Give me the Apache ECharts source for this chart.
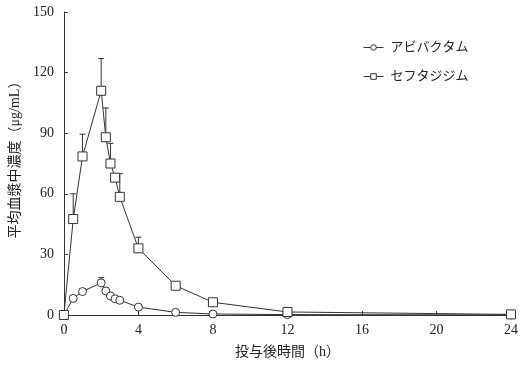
<!DOCTYPE html>
<html>
<head>
<meta charset="utf-8">
<script src="https://cdn.jsdelivr.net/npm/echarts@6/dist/echarts.min.js"></script>
<style>
    html, body { margin: 0; padding: 0; background: #fff; }
    #container { width: 530px; height: 369px; }
</style>
</head>
<body>
<div id="container"></div>
<script type="text/javascript">
    // 投与後時間 (h)
    var times = [0, 0.5, 1, 2, 2.25, 2.5, 2.75, 3, 4, 6, 8, 12, 24];
    // アビバクタム
    var aviMean = [0, 8.2, 11.6, 15.9, 11.9, 9.4, 8.0, 7.3, 3.9, 1.3, 0.5, 0.2, 0.05];
    var aviUpper = [0, 9.5, 13, 18.5, 13.5, 10.5, 9.0, 8.2, 4.5, 1.6, 0.7, 0.3, 0.1];
    // セフタジジム
    var cefMean = [0, 47.5, 78.5, 111, 88, 75, 68, 58.5, 33, 14.5, 6.3, 1.5, 0.3];
    var cefUpper = [0, 60, 89.5, 127, 102.5, 85, 70, 70, 38.5, 16, 7, 2, 0.4];

    var seriesNames = ['アビバクタム', 'セフタジジム'];
    var fontFam = 'Liberation Serif, "Noto Sans CJK JP", serif';

    function pairs(xs, ys) {
        return xs.map(function (x, i) { return [x, ys[i]]; });
    }
    function errData(xs, mean, upper) {
        return xs.map(function (x, i) { return [x, mean[i], upper[i]]; });
    }

    function renderErr(params, api) {
        var p0 = api.coord([api.value(0), api.value(1)]);
        var p1 = api.coord([api.value(0), api.value(2)]);
        var hw = 3;
        return {
            type: 'group',
            children: [{
                type: 'line',
                shape: { x1: p0[0], y1: p0[1], x2: p1[0], y2: p1[1] },
                style: { stroke: '#333', lineWidth: 1 }
            }, {
                type: 'line',
                shape: { x1: p1[0] - hw, y1: p1[1], x2: p1[0] + hw, y2: p1[1] },
                style: { stroke: '#333', lineWidth: 1 }
            }]
        };
    }

    var myChart = echarts.init(document.getElementById('container'));
    var option = {
        animation: false,
        backgroundColor: '#fff',
        grid: { left: 63, right: 19, top: 12, bottom: 54 },
        legend: {
            orient: 'vertical',
            left: 358,
            top: 36,
            itemWidth: 20,
            itemHeight: 7,
            itemGap: 16,
            data: seriesNames,
            lineStyle: { width: 1, color: '#333' },
            itemStyle: { borderWidth: 1, borderColor: '#333', color: '#fff' },
            textStyle: { fontFamily: fontFam, fontSize: 13, color: '#222', padding: [0, 0, 0, 2] }
        },
        xAxis: {
            type: 'value',
            min: 0,
            max: 24,
            interval: 4,
            name: '投与後時間（h）',
            nameLocation: 'middle',
            nameGap: 30,
            nameTextStyle: { fontFamily: fontFam, fontSize: 14, color: '#222' },
            axisLine: { lineStyle: { color: '#333' } },
            axisTick: { inside: true, length: 4, lineStyle: { color: '#333' } },
            axisLabel: { fontFamily: fontFam, fontSize: 14, color: '#222', margin: 8 },
            splitLine: { show: false }
        },
        yAxis: {
            type: 'value',
            min: 0,
            max: 150,
            interval: 30,
            name: '平均血漿中濃度（μg/mL）',
            nameLocation: 'middle',
            nameRotate: 90,
            nameGap: 38,
            nameTextStyle: { fontFamily: fontFam, fontSize: 14, color: '#222', padding: [0, 0, 0, 14] },
            axisLine: { show: true, lineStyle: { color: '#333' } },
            axisTick: { show: true, inside: true, length: 4, lineStyle: { color: '#333' } },
            axisLabel: { fontFamily: fontFam, fontSize: 14, color: '#222', margin: 10 },
            splitLine: { show: false }
        },
        series: [{
            name: seriesNames[0],
            type: 'line',
            data: pairs(times, aviMean),
            symbol: 'circle',
            symbolSize: 8,
            z: 3,
            lineStyle: { color: '#333', width: 1 },
            itemStyle: { color: '#fff', borderColor: '#333', borderWidth: 1 }
        }, {
            name: seriesNames[1],
            type: 'line',
            data: pairs(times, cefMean),
            symbol: 'rect',
            symbolSize: 9,
            z: 3,
            lineStyle: { color: '#333', width: 1 },
            itemStyle: { color: '#fff', borderColor: '#333', borderWidth: 1 }
        }, {
            type: 'custom',
            renderItem: renderErr,
            data: errData(times, aviMean, aviUpper),
            z: 2,
            silent: true
        }, {
            type: 'custom',
            renderItem: renderErr,
            data: errData(times, cefMean, cefUpper),
            z: 2,
            silent: true
        }]
    };
    myChart.setOption(option);
</script>
</body>
</html>
